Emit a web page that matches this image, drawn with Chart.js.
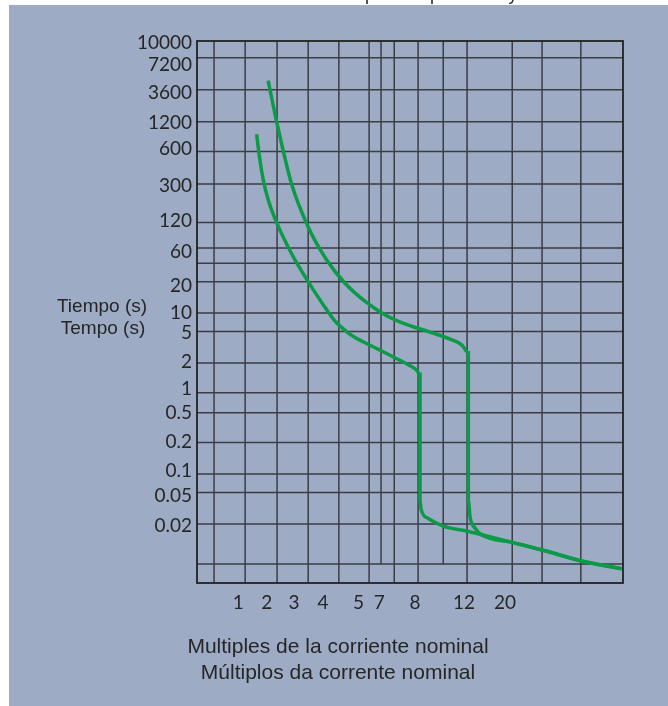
<!DOCTYPE html>
<html>
<head>
<meta charset="utf-8">
<script src="https://cdn.jsdelivr.net/npm/chart.js@4.4.1/dist/chart.umd.min.js"></script>
<style>
  html, body { margin: 0; padding: 0; background: #fff; }
  canvas { display: block; }
</style>
</head>
<body>
<canvas id="curveChart" width="668" height="706"></canvas>
<script>
// the sheet is not a true log grid, so both axes run 0-100 across the plot
const xTickLabels = ["1", "2", "3", "4", "5", "7", "8", "12", "20"];
const xTickPos = [9.7, 16.4, 22.8, 29.6, 37.9, 42.8, 51.2, 62.7, 72.3];

const yTickLabels = ["10000", "7200", "3600", "1200", "600", "300", "120", "60", "20",
  "10", "5", "2", "1", "0.5", "0.2", "0.1", "0.05", "0.02"];
const yTickPos = [99.6, 95.6, 90.4, 84.9, 80.1, 73.2, 66.8, 61.1, 54.8,
  49.9, 46.1, 40.8, 35.8, 31.4, 26.1, 20.7, 16.1, 10.6];

// grid lines as printed
const xGridPos = [4.0, 11.3, 18.8, 26.1, 33.3, 40.4, 46.3, 51.9, 63.4, 74.0, 81.0, 90.1];
const xShortGridPos = [43.2, 57.8];
const yGridPos = [96.9, 91.0, 85.1, 79.6, 73.6, 66.5, 61.8, 59.0, 55.6, 49.8, 46.4,
  40.6, 35.1, 31.4, 25.9, 20.1, 16.7, 10.9, 3.5];
const shortGridStop = 3.5;

// trip curves
const lowCurveX = [14.0, 14.7, 15.6, 16.8, 18.7, 22.6, 26.1, 30.45, 32.6, 35.1, 37.3, 39.8,
  46.1, 50.0, 51.4, 52.35, 52.35, 52.6, 54.3, 57.8, 63.3, 66.4, 74.0, 81.0, 90.1, 99.7];
const lowCurveY = [82.8, 78.4, 74.2, 70.5, 66.5, 60.2, 55.6, 50.4, 48.15, 46.4, 45.2, 44.2,
  41.7, 40.1, 39.4, 38.5, 15.3, 13.6, 11.9, 10.5, 9.6, 9.0, 7.5, 6.1, 4.1, 2.6];

const highCurveX = [16.7, 18.7, 22.2, 26.1, 30.45, 34.7, 39.4, 44.1, 48.8, 54.7, 59.4, 62.2,
  63.7, 63.7, 64.1, 65.3, 66.8, 74.0, 81.0, 90.1, 99.7];
const highCurveY = [92.7, 85.1, 73.6, 65.7, 59.6, 55.35, 52.0, 49.5, 47.8, 46.3, 45.0, 43.9,
  42.5, 15.3, 12.2, 10.1, 8.9, 7.5, 6.1, 4.1, 2.6];

const green = "#0b9a48";
const ink = "#262626";
const font = "'Liberation Sans', Arial, sans-serif";
const tickFont = "Lato, 'Liberation Sans', sans-serif";

const toPoints = (xs, ys) => xs.map((x, i) => ({ x: x, y: ys[i] }));

const sheet = {
  id: "sheet",
  beforeDraw(c) {
    const ctx = c.ctx;
    ctx.save();
    ctx.fillStyle = "#fff";
    ctx.fillRect(0, 0, c.width, c.height);
    ctx.fillStyle = "#9eabc4";
    ctx.fillRect(9, 5, c.width - 9, c.height - 5);
    // title above is cut off, only descenders show
    ctx.fillStyle = ink;
    ctx.font = "18px " + font;
    ctx.textBaseline = "alphabetic";
    ctx.textAlign = "center";
    ctx.fillText("p", 370, -0.5);
    ctx.fillText("p", 435, -0.5);
    ctx.fillText("y", 513, -0.5);
    ctx.restore();
  },
  beforeDatasetsDraw(c) {
    const ctx = c.ctx, a = c.chartArea;
    const xs = c.scales.x, ys = c.scales.y;
    ctx.save();
    ctx.strokeStyle = "#3b3d44";
    ctx.lineWidth = 1.5;
    ctx.beginPath();
    yGridPos.forEach(v => {
      const y = ys.getPixelForValue(v);
      ctx.moveTo(a.left, y);
      ctx.lineTo(a.right, y);
    });
    xGridPos.forEach(v => {
      const x = xs.getPixelForValue(v);
      ctx.moveTo(x, a.top);
      ctx.lineTo(x, a.bottom);
    });
    const stop = ys.getPixelForValue(shortGridStop);
    xShortGridPos.forEach(v => {
      const x = xs.getPixelForValue(v);
      ctx.moveTo(x, a.top);
      ctx.lineTo(x, stop);
    });
    ctx.stroke();
    ctx.strokeStyle = "#222";
    ctx.lineWidth = 1.8;
    ctx.strokeRect(a.left, a.top, a.right - a.left, a.bottom - a.top);
    ctx.restore();
  },
  afterDraw(c) {
    const ctx = c.ctx;
    ctx.save();
    ctx.fillStyle = ink;
    ctx.textAlign = "center";
    ctx.textBaseline = "alphabetic";
    ctx.font = "19px " + font;
    ctx.fillText("Tiempo (s)", 102, 312);
    ctx.fillText("Tempo (s)", 103, 334);
    ctx.font = "21px " + font;
    ctx.fillText("Multiples de la corriente nominal", 338, 653);
    ctx.fillText("Múltiplos da corrente nominal", 338, 679);
    ctx.restore();
  }
};

new Chart(document.getElementById("curveChart"), {
  type: "line",
  data: {
    datasets: [
      {
        data: toPoints(lowCurveX, lowCurveY),
        borderColor: green,
        borderWidth: 3.5,
        pointRadius: 0,
        cubicInterpolationMode: "monotone",
        fill: false
      },
      {
        data: toPoints(highCurveX, highCurveY),
        borderColor: green,
        borderWidth: 3.5,
        pointRadius: 0,
        cubicInterpolationMode: "monotone",
        fill: false
      }
    ]
  },
  options: {
    responsive: false,
    animation: false,
    layout: { padding: { top: 41, right: 45, left: 0, bottom: 0 } },
    plugins: {
      legend: { display: false },
      tooltip: { enabled: false }
    },
    scales: {
      x: {
        type: "linear",
        min: 0,
        max: 100,
        grid: { display: false, drawTicks: false },
        border: { display: false },
        afterBuildTicks: s => { s.ticks = xTickPos.map(v => ({ value: v })); },
        afterFit: s => { s.height = 123; },
        ticks: {
          autoSkip: false,
          maxRotation: 0,
          padding: 8,
          color: ink,
          font: { family: tickFont, size: 19 },
          callback: (v, i) => xTickLabels[i]
        }
      },
      y: {
        type: "linear",
        min: 0,
        max: 100,
        grid: { display: false, drawTicks: false },
        border: { display: false },
        afterBuildTicks: s => { s.ticks = yTickPos.map(v => ({ value: v })); },
        afterFit: s => { s.width = 197; },
        ticks: {
          autoSkip: false,
          padding: 5,
          color: ink,
          font: { family: tickFont, size: 19 },
          callback: (v, i) => yTickLabels[i]
        }
      }
    }
  },
  plugins: [sheet]
});
</script>
</body>
</html>
